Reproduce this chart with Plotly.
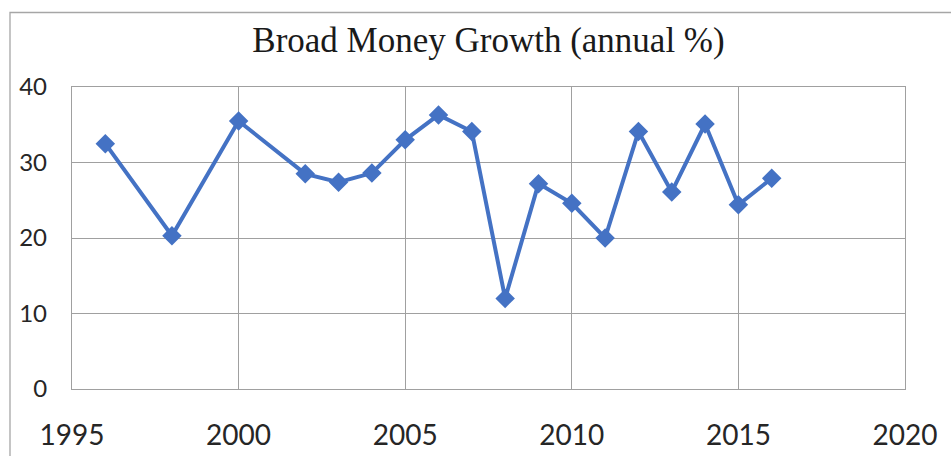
import plotly.graph_objects as go

years = [1996, 1998, 2000, 2002, 2003, 2004, 2005, 2006, 2007, 2008,
         2009, 2010, 2011, 2012, 2013, 2014, 2015, 2016]
growth = [32.5, 20.3, 35.5, 28.5, 27.4, 28.6, 33.0, 36.3, 34.1, 12.0,
          27.2, 24.6, 20.0, 34.1, 26.1, 35.1, 24.4, 27.9]

x_ticks = [1995, 2000, 2005, 2010, 2015, 2020]
y_ticks = [0, 10, 20, 30, 40]
title_text = "Broad Money Growth (annual %)"

W, H = 951, 456
ML, MR, MT, MB = 72, 46, 87, 67
PW = W - ML - MR
PH = H - MT - MB

def px_x(p):
    return (p - ML) / PW

def px_y(p):
    return (H - MB - p) / PH

fig = go.Figure()
fig.add_trace(go.Scatter(
    x=years, y=growth, mode="lines+markers",
    line=dict(color="#4472C4", width=4),
    marker=dict(symbol="diamond", size=15, color="#4472C4"),
    showlegend=False, hoverinfo="x+y",
))

grid = "#A0A0A0"
fig.update_xaxes(
    range=[1995, 2020], tickvals=x_ticks, ticktext=[str(v) for v in x_ticks],
    showgrid=True, gridcolor=grid, gridwidth=1.3,
    showline=True, linecolor=grid, linewidth=1.3, mirror=True,
    zeroline=False, ticks="", ticklabelstandoff=21,
    tickfont=dict(family="Lato", size=28, color="#262626"),
)
fig.update_yaxes(
    range=[0, 40], tickvals=y_ticks, ticktext=[str(v) for v in y_ticks],
    showgrid=True, gridcolor=grid, gridwidth=1.3,
    showline=True, linecolor=grid, linewidth=1.3, mirror=True,
    zeroline=False, ticks="", ticklabelstandoff=19,
    tickfont=dict(family="Lato", size=24, color="#262626"),
)

fig.add_shape(type="rect", xref="paper", yref="paper",
              x0=px_x(10), x1=px_x(965), y0=px_y(470), y1=px_y(12.5),
              line=dict(color="#A6A6A6", width=1.3), fillcolor="rgba(0,0,0,0)",
              layer="below")

fig.update_layout(
    width=W, height=H,
    margin=dict(l=ML, r=MR, t=MT, b=MB, autoexpand=False),
    paper_bgcolor="white", plot_bgcolor="white",
    title=dict(text=title_text, x=488.5 / W, xanchor="center",
               y=1 - 40 / H, yanchor="middle",
               font=dict(family="Liberation Serif", size=35, color="#1a1a1a")),
)

fig.write_html(
    "out.html",
    config={"displayModeBar": False},
    post_script="document.body.style.margin='0';document.body.style.overflow='hidden';",
)
